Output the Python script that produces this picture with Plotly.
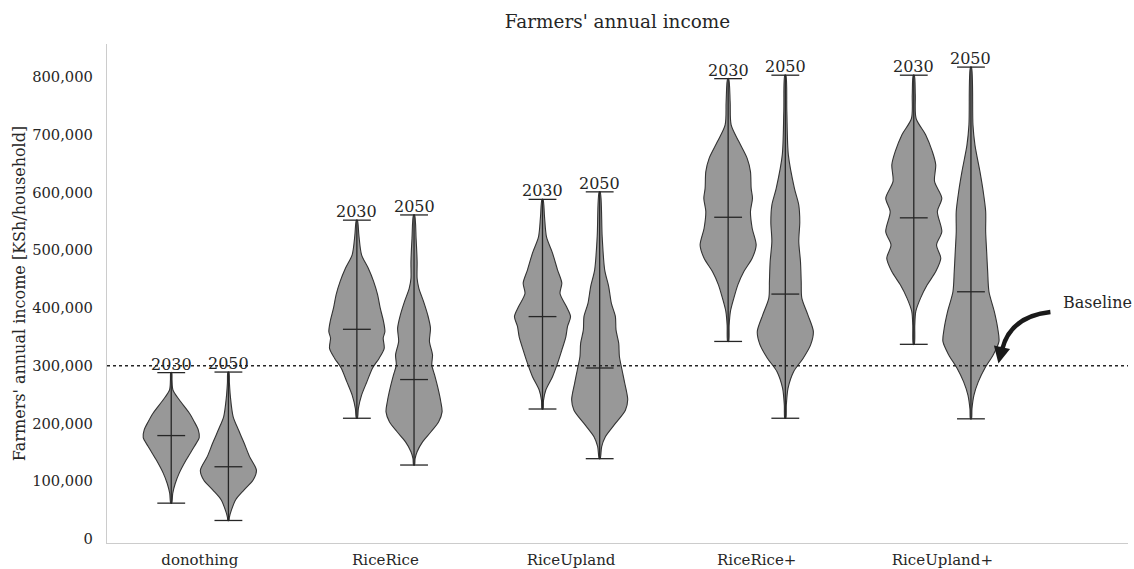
import plotly.graph_objects as go

# Scenarios and simulation years
scenarios = ["donothing", "RiceRice", "RiceUpland", "RiceRice+", "RiceUpland+"]
years = ["2030", "2050"]

# Summary statistics per scenario (KSh/household)
income_min_2030 = [62000, 209000, 225000, 342000, 337000]
income_max_2030 = [288000, 552000, 588000, 797000, 803000]
income_mean_2030 = [179000, 363000, 385000, 557000, 556000]

income_min_2050 = [32000, 128000, 139000, 209000, 208000]
income_max_2050 = [289000, 561000, 601000, 803000, 817000]
income_mean_2050 = [125000, 276000, 296000, 424000, 428000]

# Kernel density profiles: income levels (thousand KSh) and relative density
density_levels_2030 = [
    [62, 79, 96, 114, 137, 160, 176, 189, 203, 218, 241, 258, 275, 288],
    [209, 226, 249, 272, 296, 313, 330, 348, 359, 376, 400, 423, 446, 469, 492, 526, 552],
    [225, 240, 258, 281, 304, 327, 350, 368, 385, 402, 425, 443, 466, 495, 523, 558, 588],
    [342, 370, 394, 417, 440, 463, 486, 509, 538, 567, 590, 607, 636, 659, 688, 717, 757, 797],
    [337, 370, 394, 417, 440, 463, 486, 509, 532, 567, 590, 619, 648, 671, 700, 728, 769, 803],
]
density_values_2030 = [
    [0.5, 1.5, 4, 8, 15, 23, 28, 27, 23, 18, 8, 1.7, 0.8, 0.5],
    [0.5, 1.5, 4.7, 10, 15.7, 22.3, 27.3, 26.3, 28, 26.7, 23.3, 20.7, 16.7, 11.3, 4.7, 2, 0.5],
    [0.5, 1, 3.3, 10, 15, 19.3, 23.3, 25, 28, 24, 17.5, 19.3, 15, 10, 4, 2, 0.5],
    [0.5, 1, 2.3, 5.7, 9.7, 15.7, 24, 28, 24, 22.3, 24.3, 23, 22.3, 19, 10.7, 3, 2, 0.5],
    [0.5, 1, 2, 6.7, 13.3, 21.7, 26.7, 22.5, 27.7, 23.3, 27.7, 20.5, 21.7, 18.3, 11.7, 2.3, 1.5, 0.5],
]
density_levels_2050 = [
    [32, 38, 50, 68, 85, 102, 119, 143, 166, 189, 212, 246, 270, 289],
    [128, 139, 151, 168, 186, 203, 220, 238, 261, 284, 301, 319, 342, 365, 388, 411, 434, 451, 480, 520, 561],
    [139, 160, 177, 200, 223, 241, 270, 293, 316, 339, 362, 385, 408, 437, 466, 523, 601],
    [209, 232, 261, 290, 313, 336, 359, 388, 417, 446, 480, 515, 549, 578, 607, 665, 740, 803],
    [208, 225, 249, 272, 296, 319, 342, 365, 394, 428, 463, 497, 532, 567, 601, 636, 682, 717, 817],
]
density_values_2050 = [
    [0.5, 1, 3, 7.3, 15.7, 24.7, 28, 21, 15.7, 10, 4.7, 2, 1, 0.5],
    [0.5, 1, 3, 8.3, 16.7, 24, 27.3, 26, 23.3, 20, 17.3, 18, 15, 16, 13.3, 9.3, 4.7, 3, 3, 2, 0.5],
    [0.5, 2, 5.7, 15.7, 25.7, 28, 25, 22.3, 19.7, 19, 16.3, 15.7, 11.7, 9, 5, 2.5, 0.5],
    [0.5, 1, 2.7, 8.3, 17.7, 25, 27.7, 22.3, 16.3, 15.7, 15, 13.3, 14.3, 13.3, 9, 3, 1.5, 0.5],
    [0.5, 1, 3, 7.3, 14, 22.3, 28, 26.7, 23.3, 18, 16.7, 15.7, 14.7, 14.7, 12.3, 9, 4, 2, 0.5],
]

baseline_income = 300000

# Geometry / styling
OFFSET = 0.154        # horizontal shift of each year's violin from the category
HALF_WIDTH = 0.151    # maximum half width of a violin
CAP_HALF = 0.075      # half width of min/max/mean bars
FONT = "DejaVu Serif"
FILL = "#989898"
EDGE = "#333333"
LINE = "#262626"

fig = go.Figure()

stats = {
    "2030": (income_min_2030, income_max_2030, income_mean_2030,
             density_levels_2030, density_values_2030, -OFFSET),
    "2050": (income_min_2050, income_max_2050, income_mean_2050,
             density_levels_2050, density_values_2050, OFFSET),
}

annotations = []
for year in years:
    mins, maxs, means, levels, dens, shift = stats[year]
    for i, name in enumerate(scenarios):
        c = i + shift
        lv = [v * 1000 for v in levels[i]]
        peak = max(dens[i])
        hw = [HALF_WIDTH * d / peak for d in dens[i]]
        xs = [c + w for w in hw] + [c - w for w in reversed(hw)]
        ys = lv + list(reversed(lv))
        xs.append(xs[0])
        ys.append(ys[0])
        fig.add_trace(go.Scatter(
            x=xs, y=ys, mode="lines", fill="toself",
            fillcolor=FILL, line=dict(color=EDGE, width=1.1, shape="spline", smoothing=0.8),
            hoverinfo="skip", showlegend=False,
        ))
        # range bar, caps and mean
        lx = [c, c, None,
              c - CAP_HALF, c + CAP_HALF, None,
              c - CAP_HALF, c + CAP_HALF, None,
              c - CAP_HALF, c + CAP_HALF]
        ly = [mins[i], maxs[i], None,
              mins[i], mins[i], None,
              maxs[i], maxs[i], None,
              means[i], means[i]]
        fig.add_trace(go.Scatter(
            x=lx, y=ly, mode="lines", line=dict(color=LINE, width=1.3),
            hoverinfo="skip", showlegend=False,
        ))
        annotations.append(dict(
            x=c, y=maxs[i], xref="x", yref="y", text=year, showarrow=False,
            yanchor="bottom", xanchor="center", yshift=-3,
            font=dict(family=FONT, size=16, color=LINE),
        ))

# Baseline reference
fig.add_shape(type="line", xref="paper", x0=0, x1=1, yref="y",
              y0=baseline_income, y1=baseline_income,
              line=dict(color=LINE, width=1.4, dash="dot"))

annotations.append(dict(
    x=4.64, y=409000, xref="x", yref="y", text="Baseline", showarrow=False,
    xanchor="left", yanchor="middle", font=dict(family=FONT, size=16, color=LINE),
))
# curved arrow body pointing to the baseline
fig.add_shape(type="path", xref="x", yref="y",
              path="M 4.582,393000 Q 4.367,385300 4.323,329000",
              line=dict(color="#1a1a1a", width=4.5))
annotations.append(dict(
    x=4.302, y=304000, xref="x", yref="y", ax=4, ay=-18,
    text="", showarrow=True,
    arrowhead=2, arrowsize=1.1, arrowwidth=3, arrowcolor="#1a1a1a",
))

fig.update_layout(
    width=1134, height=569,
    margin=dict(l=107, r=6, t=44, b=26),
    paper_bgcolor="white", plot_bgcolor="white",
    title=dict(text="Farmers' annual income", x=0.5, xref="paper", xanchor="center",
               y=0.962, yanchor="middle",
               font=dict(family=FONT, size=18.4, color=LINE)),
    annotations=annotations,
    font=dict(family=FONT, color=LINE),
)
fig.update_xaxes(
    range=[-0.5, 5.0], tickmode="array", tickvals=list(range(len(scenarios))),
    ticktext=scenarios, showline=True, linecolor="#cccccc", linewidth=1.3,
    showgrid=False, zeroline=False, ticks="", ticklabelstandoff=3,
    automargin=False,
    tickfont=dict(family=FONT, size=15, color=LINE),
)
fig.update_yaxes(
    range=[-7000, 857000], tickmode="array",
    tickvals=[v * 100000 for v in range(9)], tickformat=",d",
    showline=True, linecolor="#cccccc", linewidth=1.3,
    showgrid=False, zeroline=False, ticks="", ticklabelstandoff=10,
    automargin=False,
    tickfont=dict(family=FONT, size=14.7, color=LINE),
    title=dict(text="Farmers' annual income [KSh/household]", standoff=2,
               font=dict(family=FONT, size=16, color=LINE)),
)

fig.write_html("out.html")
